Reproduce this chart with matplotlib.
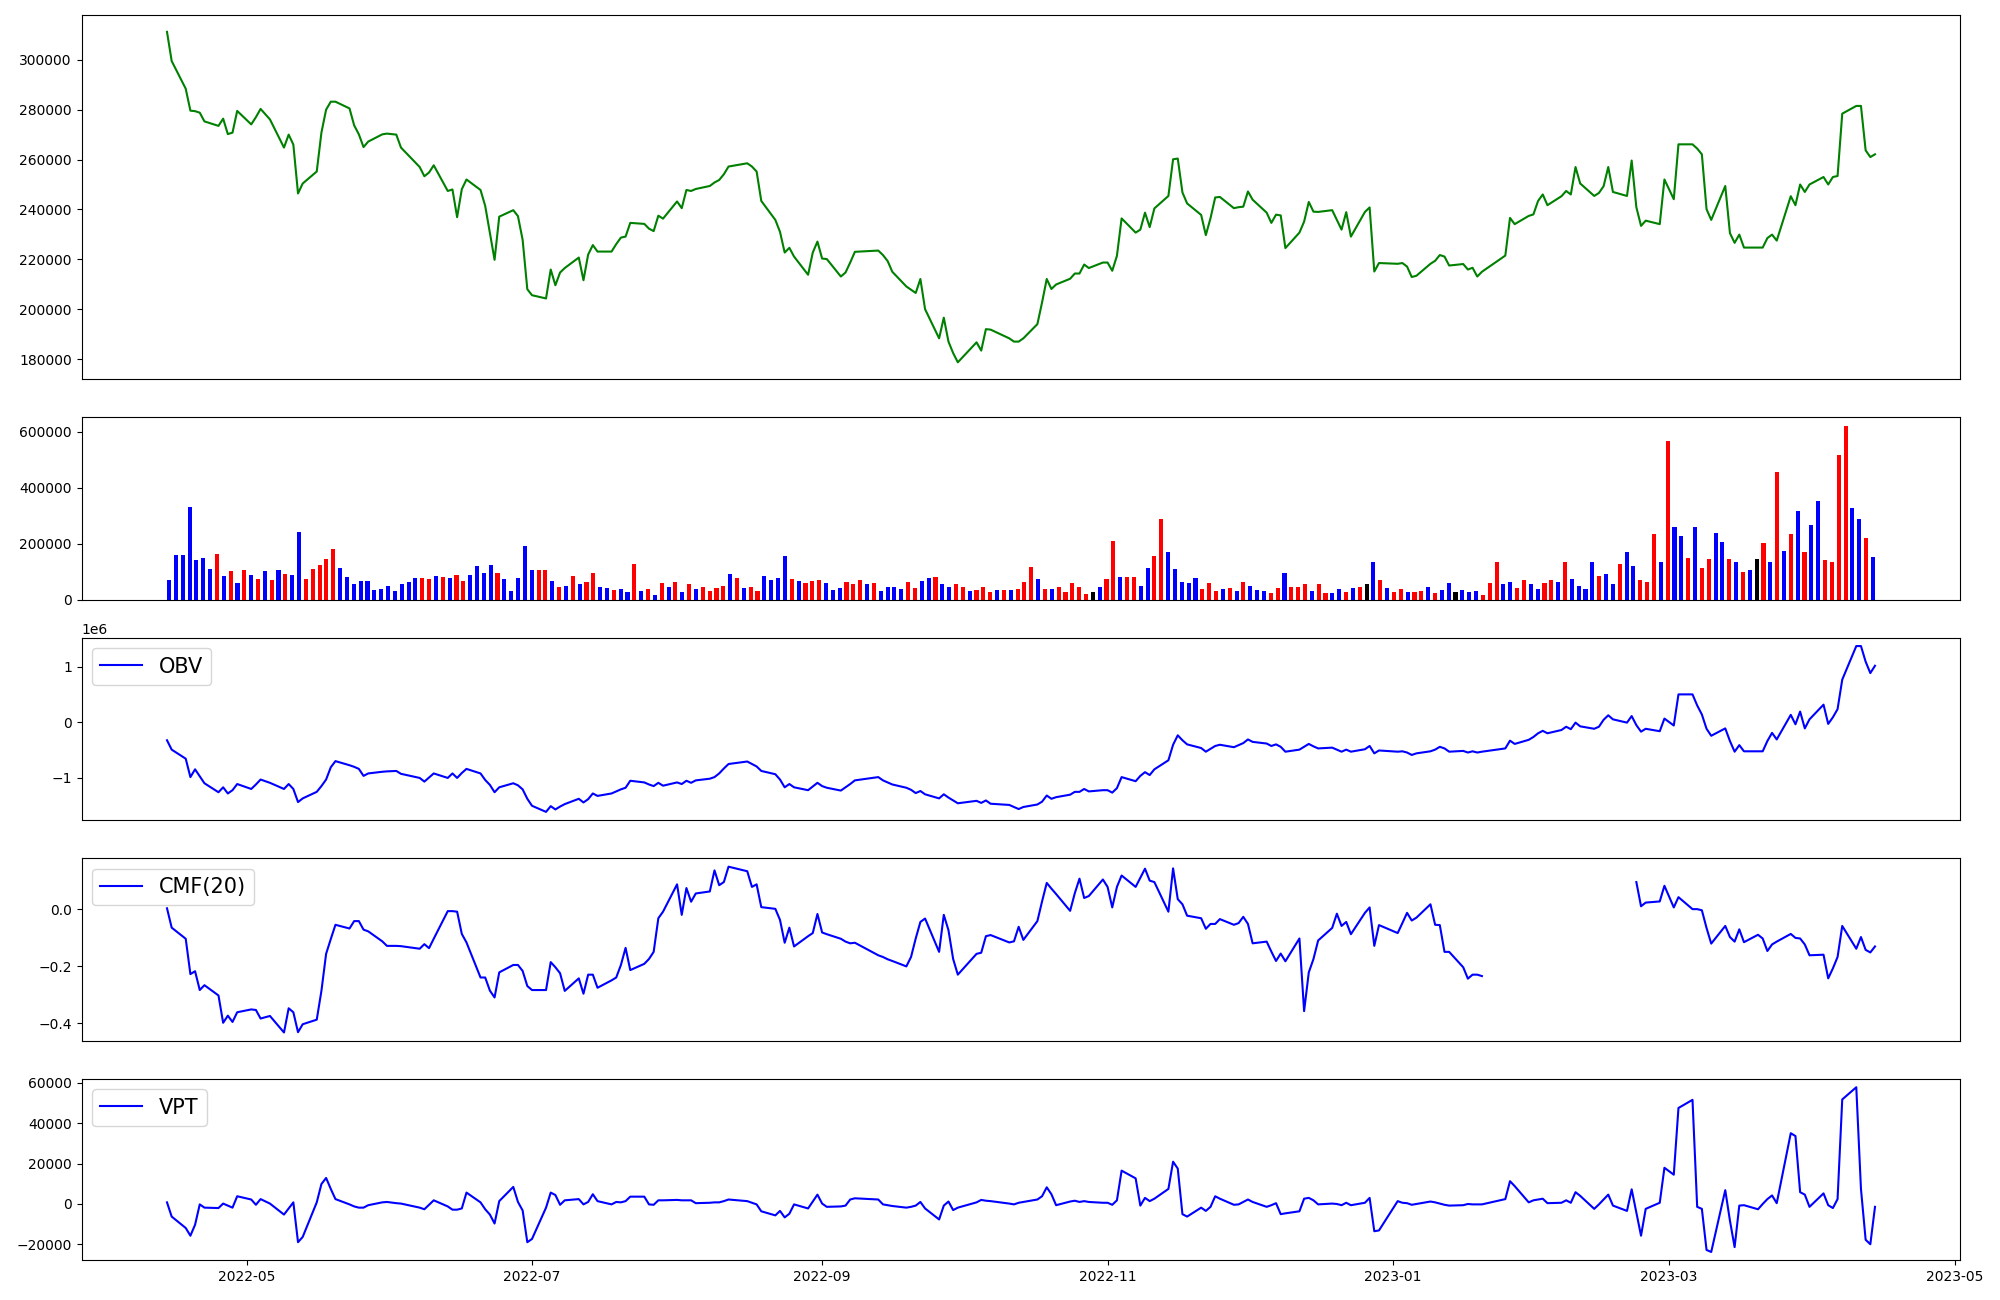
import numpy as np
import pandas as pd
import matplotlib
matplotlib.use('Agg')
import matplotlib.pyplot as plt

nan = np.nan

# KRX trading days, Apr 2022 - Apr 2023
holidays = ['2022-05-05', '2022-06-01', '2022-06-06', '2022-08-15', '2022-09-09',
            '2022-09-12', '2022-10-03', '2022-10-10', '2022-12-30', '2023-01-23',
            '2023-01-24', '2023-03-01']
dates = pd.bdate_range('2022-04-14', '2023-04-14').drop(pd.to_datetime(holidays))

close = [
    311200, 299500, 288400, 279600, 279400, 278800, 275300, 273500, 276400, 270200, 270800, 279500,
    274100, 277000, 280300, 276100, 264800, 270000, 266000, 246400, 250400, 255200, 270800, 280000,
    283200, 283200, 280500, 273700, 270100, 265000, 267200, 270100, 270400,
    270000, 264800, 257000, 253300, 254800, 257700, 247400, 248000, 236900, 248100, 252000, 247800,
    241400, 230700, 219800, 237100, 239700, 237300, 227800, 208000,
    205600, 204300, 215900, 209600, 214700, 216500, 220700, 211600, 221900, 225700, 223100, 223100,
    226100, 228700, 229100, 234600, 234200, 232300, 231300, 237500, 236300,
    243200, 240500, 247800, 247400, 248200, 249400, 250800, 251800, 254100, 257200, 258500, 257200,
    255200, 243400, 235800, 231000, 222700, 224600, 221100, 213800, 222700, 227100,
    220300, 220100, 213100, 214700, 218700, 223000, 223500, 221700, 219300, 215000, 209100, 207800,
    206500, 212100, 200000, 188300, 196600, 187000, 182400, 178700,
    186700, 183400, 192000, 191800, 188300, 187000, 187000, 188300, 194000, 202700, 212100, 208100,
    209900, 212200, 214300, 214300, 217900, 216500, 218700,
    218700, 215400, 221400, 236400, 230700, 231900, 238700, 232900, 240400, 245400, 260100, 260400,
    246800, 242400, 237800, 229700, 236500, 244800, 245000, 240500, 240900, 241100,
    247200, 243900, 238700, 234600, 237900, 237600, 224500, 230700, 235100, 243000, 239100, 239000,
    239700, 235800, 231900, 238900, 229100, 239000, 240800, 215100, 218500,
    218200, 218500, 217100, 212900, 213400, 218200, 219400, 221700, 221100, 217500, 218100, 215900,
    216600, 213100, 215000, 221500, 236600, 234100, 237400, 238000,
    243400, 246000, 241700, 245300, 247400, 246000, 257000, 250400, 245400, 246600, 249300, 257000,
    247000, 245400, 259600, 240900, 233400, 235500, 234100, 252000,
    244100, 266100, 266100, 264400, 262100, 240100, 235800, 249400, 230500, 226600, 229900, 224700,
    224700, 224700, 228500, 229900, 227500, 245300, 241700, 250000, 247000, 250000,
    253000, 250000, 253000, 253400, 278400, 281500, 281500, 263700, 261000, 262100,
]

volume = [
    68300, 158100, 158100, 330500, 140100, 147300, 107800, 161700, 82600, 100600,
    57500, 104200, 86200, 71900, 100600, 68300, 104200, 89800, 86200, 240700,
    71900, 107800, 122200, 143700, 179600, 111400, 79000, 53900, 64700, 64700,
    35900, 39500, 50300, 32300, 53900, 61100, 75400, 75400, 71900, 82600,
    79000, 75400, 86200, 64700, 86200, 118600, 93400, 122200, 93400, 71900,
    32300, 75400, 190400, 104200, 104200, 104200, 64700, 46700, 50300, 82600,
    53900, 61100, 93400, 46700, 43100, 35900, 39500, 28700, 125700, 32300,
    39500, 18000, 57500, 46700, 61100, 28700, 53900, 39500, 46700, 32300,
    43100, 50300, 89800, 75400, 43100, 46700, 32300, 82600, 68300, 75400,
    154500, 71900, 64700, 57500, 64700, 68300, 57500, 35900, 43100, 61100,
    53900, 68300, 53900, 57500, 32300, 46700, 46700, 39500, 61100, 43100,
    64700, 75400, 79000, 53900, 46700, 53900, 46700, 32300, 35900, 46700,
    28700, 35900, 35900, 35900, 39500, 61100, 115000, 71900, 39500, 39500,
    46700, 28700, 57500, 46700, 21600, 28700, 46700, 71900, 208400, 79000,
    79000, 79000, 50300, 111400, 154500, 287400, 168900, 107800, 61100, 57500,
    75400, 39500, 57500, 32300, 39500, 43100, 32300, 61100, 50300, 35900,
    32300, 25100, 43100, 93400, 46700, 46700, 53900, 32300, 53900, 25100,
    25100, 39500, 28700, 43100, 46700, 53900, 132900, 68300, 43100, 28700,
    39500, 28700, 28700, 32300, 46700, 25100, 35900, 57500, 28700, 35900,
    28700, 32300, 18000, 57500, 132900, 53900, 61100, 43100, 68300, 53900,
    39500, 57500, 68300, 61100, 132900, 71900, 50300, 39500, 132900, 82600,
    89800, 53900, 125700, 168900, 118600, 68300, 61100, 233500, 132900, 567700,
    258700, 226300, 147300, 258700, 111400, 143700, 237100, 204800, 143700, 132900,
    97000, 104200, 143700, 201200, 132900, 456300, 172500, 233500, 316200, 168900,
    265900, 352100, 140100, 132900, 517400, 621500, 326900, 287400, 219200, 150900,
]

# candle colour of each volume bar: r = up, b = down, k = unchanged
bar_kind = ("bbbbbbbrbr" "brbrbrbrbb" "rrrrrbbbbb" "bbbbbbbrrb" "rbrrbbbbrb"
            "bbbbrrbrbr" "brrbbrbbrb" "rbrbrbrbrr" "rrbrbrrbbb" "brbrrrbbbr"
            "rrbrbbbbrr" "bbrbbrrbrr" "rbrbrrrbrb" "rrrrrkbrrb" "rrbbrrbbbb"
            "brrrbrbrbb" "brrbrrrbrr" "bbrbrkbrbr" "rbrrbrbbkb" "bbrrrbbrrb"
            "brrbrbbbbr" "bbrbbrrrbr" "bbrbrrbbrb" "rbkrbrbrbr" "bbrrrrbbrb")

obv = [
    -325000, -494000, -657000, -989000, -849000, -974000, -1100000, -1262000, -1173000, -1284000, -1225000, -1114000,
    -1203000, -1122000, -1033000, -1092000, -1203000, -1114000, -1203000, -1439000, -1373000, -1255000, -1151000,
    -1033000, -812000, -701000, -775000, -804000, -841000, -967000, -923000, -893000, -886000,
    -878000, -930000, -1004000, -1070000, -996000, -923000, -1004000, -923000, -1004000, -915000, -841000,
    -923000, -1041000, -1129000, -1262000, -1173000, -1100000, -1137000, -1210000, -1380000,
    -1506000, -1616000, -1513000, -1572000, -1520000, -1476000, -1380000, -1446000, -1387000, -1284000, -1328000,
    -1284000, -1247000, -1210000, -1181000, -1055000, -1085000, -1122000, -1151000, -1092000, -1144000,
    -1085000, -1114000, -1055000, -1092000, -1048000, -1018000, -989000, -923000, -834000, -753000, -708000,
    -753000, -797000, -878000, -937000, -1033000, -1173000, -1114000, -1173000, -1225000, -1159000, -1092000,
    -1151000, -1181000, -1232000, -1173000, -1114000, -1048000, -989000, -1048000, -1085000, -1122000,
    -1181000, -1218000, -1277000, -1240000, -1299000, -1373000, -1299000, -1358000, -1410000, -1461000,
    -1417000, -1454000, -1410000, -1469000, -1491000, -1528000, -1565000, -1528000, -1483000, -1432000,
    -1321000, -1380000, -1351000, -1306000, -1255000, -1255000, -1203000, -1247000, -1225000,
    -1225000, -1269000, -1188000, -989000, -1063000, -967000, -900000, -952000, -849000, -686000, -406000,
    -236000, -325000, -399000, -465000, -531000, -480000, -428000, -406000, -450000, -413000, -376000,
    -310000, -354000, -384000, -428000, -399000, -443000, -531000, -494000, -443000, -391000, -435000,
    -472000, -458000, -494000, -531000, -494000, -531000, -487000, -428000, -561000, -509000,
    -531000, -524000, -546000, -590000, -561000, -524000, -494000, -443000, -472000, -531000,
    -517000, -546000, -524000, -546000, -531000, -472000, -332000, -391000, -317000, -266000,
    -199000, -155000, -199000, -140000, -81000, -125000, -7000, -74000, -118000, -81000,
    44000, 125000, 52000, -7000, 111000, -52000, -170000, -118000, -162000, 66000,
    -59000, 502000, 502000, 303000, 140000, -118000, -244000, -111000, -339000, -531000, -413000,
    -524000, -524000, -524000, -339000, -192000, -310000, 133000, -37000, 192000, -111000, 52000,
    317000, -30000, 89000, 236000, 768000, 1373000, 1373000, 1092000, 886000, 1018000,
]

cmf = [
    0.003, -0.065, -0.104, -0.228, -0.218, -0.284, -0.267, -0.303, -0.399, -0.374, -0.396, -0.362,
    -0.352, -0.354, -0.384, -0.375, -0.433, -0.348, -0.362, -0.432, -0.404, -0.388, -0.287,
    -0.157, -0.105, -0.055, -0.068, -0.042, -0.042, -0.072, -0.078, -0.113, -0.129,
    -0.129, -0.130, -0.139, -0.123, -0.137, -0.104, -0.007, -0.007, -0.009, -0.087, -0.117,
    -0.240, -0.240, -0.286, -0.310, -0.222, -0.196, -0.196, -0.217, -0.270,
    -0.284, -0.284, -0.186, -0.204, -0.225, -0.287, -0.243, -0.297, -0.230, -0.230, -0.276,
    -0.250, -0.240, -0.196, -0.136, -0.214, -0.192, -0.175, -0.150, -0.032, -0.009,
    0.087, -0.020, 0.074, 0.026, 0.055, 0.062, 0.136, 0.084, 0.095, 0.149, 0.133,
    0.078, 0.087, 0.007, 0.001, -0.038, -0.118, -0.065, -0.131, -0.095, -0.084, -0.017,
    -0.082, -0.088, -0.104, -0.114, -0.120, -0.118, -0.162, -0.168, -0.176, -0.182,
    -0.201, -0.168, -0.103, -0.045, -0.033, -0.150, -0.020, -0.074, -0.175, -0.230,
    -0.157, -0.153, -0.095, -0.091, -0.117, -0.113, -0.062, -0.108, -0.042, 0.027,
    0.092, 0.072, 0.053, -0.006, 0.056, 0.107, 0.039, 0.046, 0.104,
    0.078, 0.006, 0.078, 0.118, 0.078, 0.110, 0.142, 0.100, 0.095, -0.009, 0.143,
    0.035, 0.017, -0.023, -0.032, -0.069, -0.052, -0.052, -0.035, -0.055, -0.049, -0.027,
    -0.052, -0.120, -0.114, -0.149, -0.182, -0.156, -0.183, -0.103, -0.358, -0.222, -0.175,
    -0.110, -0.066, -0.016, -0.059, -0.045, -0.088, -0.013, 0.006, -0.129, -0.056,
    -0.084, -0.049, -0.013, -0.040, -0.030, 0.017, -0.055, -0.056, -0.150, -0.150,
    -0.204, -0.244, -0.230, -0.230, -0.235, nan, nan, nan, nan, nan,
    nan, nan, nan, nan, nan, nan, nan, nan, nan, nan,
    nan, nan, nan, nan, nan, 0.095, 0.010, 0.023, 0.027, 0.082,
    0.006, 0.042, 0.000, 0.000, -0.004, -0.066, -0.121, -0.059, -0.098, -0.114, -0.071,
    -0.116, -0.090, -0.103, -0.147, -0.124, -0.114, -0.087, -0.101, -0.103, -0.124, -0.162,
    -0.160, -0.243, -0.208, -0.168, -0.059, -0.139, -0.098, -0.143, -0.152, -0.131,
]

vpt = [
    800, -6230, -11860, -15680, -10250, -200, -1810, -2010, 200, -800, -1810, 3820,
    2210, -400, 2410, 200, -5230, -2210, 800, -18890, -16280, 800, 9850,
    12860, 7440, 2410, -200, -1210, -1810, -1810, -600, 800, 1000,
    400, 200, -1810, -2610, -400, 1810, -1210, -2810, -2810, -2210, 5630,
    800, -2610, -5230, -9650, 1410, 8440, 1000, -3220, -18890,
    -17290, -1810, 5630, 4420, -400, 1810, 2410, -200, 1000, 4820, 1410,
    -200, 1000, 800, 1410, 3620, 3620, -200, -400, 1810, 1810,
    2010, 1810, 1810, 1810, 400, 600, 800, 800, 1410, 2210, 1410,
    600, -200, -3620, -5630, -3420, -6630, -4820, -200, -2210, 1200, 4620,
    200, -1410, -1210, -800, 2210, 2810, 2210, -200, -600, -1000,
    -1810, -1410, -800, 1000, -2210, -7640, -800, 1210, -3020, -1810,
    800, 2010, 1610, 1410, 200, -200, 600, 1000, 2210, 3820,
    8240, 4820, -600, 1210, 1610, 1000, 1410, 1000, 600,
    600, -400, 1810, 16480, 12660, -800, 3020, 1410, 2610, 7440, 20900,
    17490, -5030, -6230, -1810, -3420, -1410, 3820, 2610, -400, -200, 1000,
    2210, 1000, -1410, -600, 400, -5030, -4620, -3620, 2610, 3020, 1810,
    -200, 200, 0, -600, 600, -600, 600, 3020, -13470, -13070,
    1410, 600, 400, -400, 0, 1210, 800, 200, -400, -800,
    -600, 0, -200, -200, -200, 2410, 11260, 8840, 800, 1810,
    2210, 2610, 400, 600, 1810, 600, 5830, 4020, -2410, -200,
    2210, 4620, -800, -3420, 7240, -4220, -15680, -2410, 600, 17890,
    14470, 47440, 51460, -1410, -2410, -22710, -23720, 6830, -8240, -21310, -800,
    -600, -2610, 0, 2410, 4220, 400, 34970, 33570, 5830, 4620, -1410,
    5230, -600, -2010, 2410, 51660, 57690, 7440, -17690, -19900, -1410,
]

bar_colors = [{'r': 'red', 'b': 'blue', 'k': 'black'}[c] for c in bar_kind]

fig = plt.figure(figsize=(20, 13), dpi=100)
ax1 = fig.add_axes([0.0408, 0.7086, 0.9394, 0.2796])
ax2 = fig.add_axes([0.0408, 0.5388, 0.9394, 0.1403])
ax3 = fig.add_axes([0.0408, 0.3691, 0.9394, 0.1403])
ax4 = fig.add_axes([0.0408, 0.1994, 0.9394, 0.1403])
ax5 = fig.add_axes([0.0408, 0.0306, 0.9394, 0.1394])

ax1.plot(dates, close, color='green')
ax2.bar(np.arange(len(volume)), volume, width=0.6, color=bar_colors)
ax3.plot(dates, obv, color='blue', label='OBV')
ax4.plot(dates, cmf, color='blue', label='CMF(20)')
ax5.plot(dates, vpt, color='blue', label='VPT')

for ax in (ax3, ax4, ax5):
    ax.legend(loc='upper left', fontsize=15)
for ax in (ax1, ax2, ax3, ax4):
    ax.tick_params(axis='x', bottom=False, labelbottom=False)

fig.savefig('out.png', dpi=100)
